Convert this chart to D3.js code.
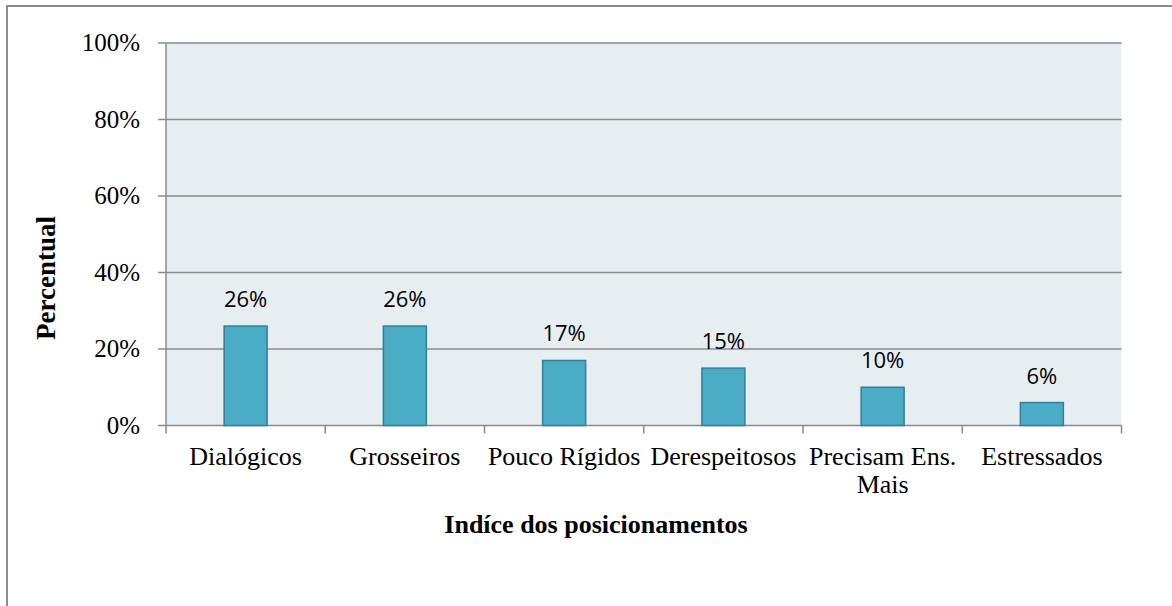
<!DOCTYPE html>
<html>
<head>
<meta charset="utf-8">
<script src="https://cdn.jsdelivr.net/npm/d3@7"></script>
<style>
  body { margin: 0; background: #fff; }
  svg { display: block; }
</style>
</head>
<body>
<script>
  // chart data
  let categories = [["Dialógicos"], ["Grosseiros"], ["Pouco Rígidos"], ["Derespeitosos"], ["Precisam Ens.", "Mais"], ["Estressados"]];
  let values = [26, 26, 17, 15, 10, 6];
  let yTicks = [0, 20, 40, 60, 80, 100];

(function() {
  let width = 1172, height = 606;
  let plotLeft = 166, plotRight = 1121.5, plotTop = 43, plotBottom = 425.5;

  let svg = d3.select("body").append("svg")
    .attr("width", width)
    .attr("height", height);

  // outer frame (only left/top visible)
  svg.append("rect")
    .attr("x", 7).attr("y", 6)
    .attr("width", width + 20).attr("height", height + 20)
    .attr("fill", "#fff")
    .attr("stroke", "#8c8c8c")
    .attr("stroke-width", 2);

  let keys = categories.map((c) => c.join(" "));

  let xScale = d3.scaleBand()
    .domain(keys)
    .range([plotLeft, plotRight]);

  let yScale = d3.scaleLinear()
    .domain([0, 100])
    .range([plotBottom, plotTop]);

  // plot background
  svg.append("rect")
    .attr("x", plotLeft).attr("y", plotTop)
    .attr("width", plotRight - plotLeft).attr("height", plotBottom - plotTop)
    .attr("fill", "#e7eef2");

  // gridlines
  svg.selectAll(".grid")
    .data(yTicks)
    .enter()
    .append("line")
      .attr("x1", plotLeft - 8).attr("x2", plotRight)
      .attr("y1", (d) => yScale(d)).attr("y2", (d) => yScale(d))
      .attr("stroke", "#8a8a8a")
      .attr("stroke-width", 1.5);

  // y axis line
  svg.append("line")
    .attr("x1", plotLeft).attr("x2", plotLeft)
    .attr("y1", plotTop).attr("y2", plotBottom)
    .attr("stroke", "#8a8a8a")
    .attr("stroke-width", 1.5);

  // y tick labels
  svg.selectAll(".ylab")
    .data(yTicks)
    .enter()
    .append("text")
      .attr("x", 140)
      .attr("y", (d) => yScale(d))
      .attr("dy", "0.33em")
      .attr("text-anchor", "end")
      .style("font-family", "'Liberation Serif', 'Times New Roman', serif")
      .style("font-size", "25px")
      .text((d) => d + "%");

  // x axis ticks at category boundaries
  let bounds = keys.map((k) => xScale(k)).concat([plotRight]);
  svg.selectAll(".xtick")
    .data(bounds)
    .enter()
    .append("line")
      .attr("x1", (d) => d).attr("x2", (d) => d)
      .attr("y1", plotBottom).attr("y2", plotBottom + 8)
      .attr("stroke", "#8a8a8a")
      .attr("stroke-width", 1.5);

  // bars
  let barW = xScale.bandwidth() * 0.27;
  svg.selectAll(".bar")
    .data(values)
    .enter()
    .append("rect")
      .attr("x", (d, i) => xScale(keys[i]) + xScale.bandwidth() / 2 - barW / 2)
      .attr("y", (d) => yScale(d))
      .attr("width", barW)
      .attr("height", (d) => plotBottom - yScale(d))
      .attr("fill", "#4bacc6")
      .attr("stroke", "#357f93")
      .attr("stroke-width", 1.5);

  // value labels
  svg.selectAll(".val")
    .data(values)
    .enter()
    .append("text")
      .attr("x", (d, i) => xScale(keys[i]) + xScale.bandwidth() / 2)
      .attr("y", (d) => yScale(d) - 19)
      .attr("text-anchor", "middle")
      .style("font-family", "'Open Sans', 'Noto Sans', sans-serif")
      .style("font-size", "22px")
      .text((d) => d + "%");

  // category labels
  categories.forEach((lines, i) => {
    let t = svg.append("text")
      .attr("text-anchor", "middle")
      .style("font-family", "'Liberation Serif', 'Times New Roman', serif")
      .style("font-size", "26px");
    lines.forEach((ln, j) => {
      t.append("tspan")
        .attr("x", xScale(keys[i]) + xScale.bandwidth() / 2)
        .attr("y", 465 + j * 28)
        .text(ln);
    });
  });

  // axis titles
  svg.append("text")
    .attr("x", 596)
    .attr("y", 533)
    .attr("text-anchor", "middle")
    .style("font-family", "'Liberation Serif', 'Times New Roman', serif")
    .style("font-size", "26px")
    .style("font-weight", "bold")
    .text("Indíce dos posicionamentos");

  svg.append("text")
    .attr("transform", "translate(55, 278) rotate(-90)")
    .attr("text-anchor", "middle")
    .style("font-family", "'Liberation Serif', 'Times New Roman', serif")
    .style("font-size", "27px")
    .style("font-weight", "bold")
    .text("Percentual");
})();
</script>
</body>
</html>
